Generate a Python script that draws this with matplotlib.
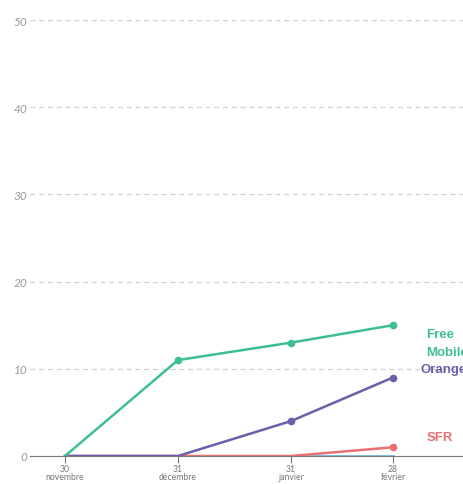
import datetime as dt
import matplotlib
matplotlib.use("Agg")
import matplotlib.pyplot as plt
import matplotlib.dates as mdates

# données
dates = [dt.date(2011, 11, 30), dt.date(2011, 12, 31), dt.date(2012, 1, 31), dt.date(2012, 2, 28)]
date_labels = ["30\nnovembre", "31\ndécembre", "31\njanvier", "28\nfévrier"]
free = [0, 11, 13, 15]
orange = [0, 0, 4, 9]
sfr = [0, 0, 0, 1]
bouygues = [0, 0, 0, 0]
yticks = [0, 10, 20, 30, 40, 50]

c_free = "#3dbf96"
c_orange = "#6a5fa8"
c_sfr = "#e8706e"
c_bouygues = "#5ba7d0"

fig = plt.figure(figsize=(4.64, 4.85), dpi=100)
ax = fig.add_axes([30 / 464, 28 / 485, 1 - 30 / 464, (457 - 21) / 485])

x = mdates.date2num(dates)


def serie(vals, color, z):
    # points seulement là où la valeur est non nulle
    idx = [i for i, v in enumerate(vals) if v != 0]
    ax.plot(x, vals, color=color, lw=1.8, marker="o", ms=4.5, markevery=idx, zorder=z)


ax.plot(x, bouygues, color=c_bouygues, lw=1.8, zorder=2)
serie(sfr, c_sfr, 3)
serie(orange, c_orange, 4)
serie(free, c_free, 5)

ax.set_xlim(x[0] - 9.6, x[-1] + 19.5)
ax.set_ylim(0, 50)

ax.set_yticks(yticks)
ax.set_yticklabels([str(v) for v in yticks], fontstyle="italic", family="Lato",
                   color="#9a9a9a", fontsize=8.5)
ax.tick_params(axis="y", length=0, pad=2)
ax.set_xticks(x)
ax.set_xticklabels(date_labels, family="Lato", color="#777777", fontsize=6.2, linespacing=0.75)
ax.tick_params(axis="x", length=5, color="#777777", pad=1)

ax.grid(axis="y", color="#d0d0d0", ls=(0, (4, 3)), lw=0.9)
ax.set_axisbelow(True)
for s in ["top", "right", "left"]:
    ax.spines[s].set_visible(False)
ax.spines["bottom"].set_color("#777777")
ax.spines["bottom"].set_zorder(1)

lab = dict(family="Liberation Sans", fontweight="bold", fontsize=9.5, clip_on=False)
ax.text(x[-1] + 9, 13.0, "Free\nMobile", color=c_free, va="center", ha="left",
        linespacing=1.65, **lab)
ax.text(x[-1] + 7.5, 10, "Orange", color=c_orange, va="center", ha="left", **lab)
ax.text(x[-1] + 9.3, 2.2, "SFR", color=c_sfr, va="center", ha="left", **lab)

fig.savefig("out.png", dpi=100)
